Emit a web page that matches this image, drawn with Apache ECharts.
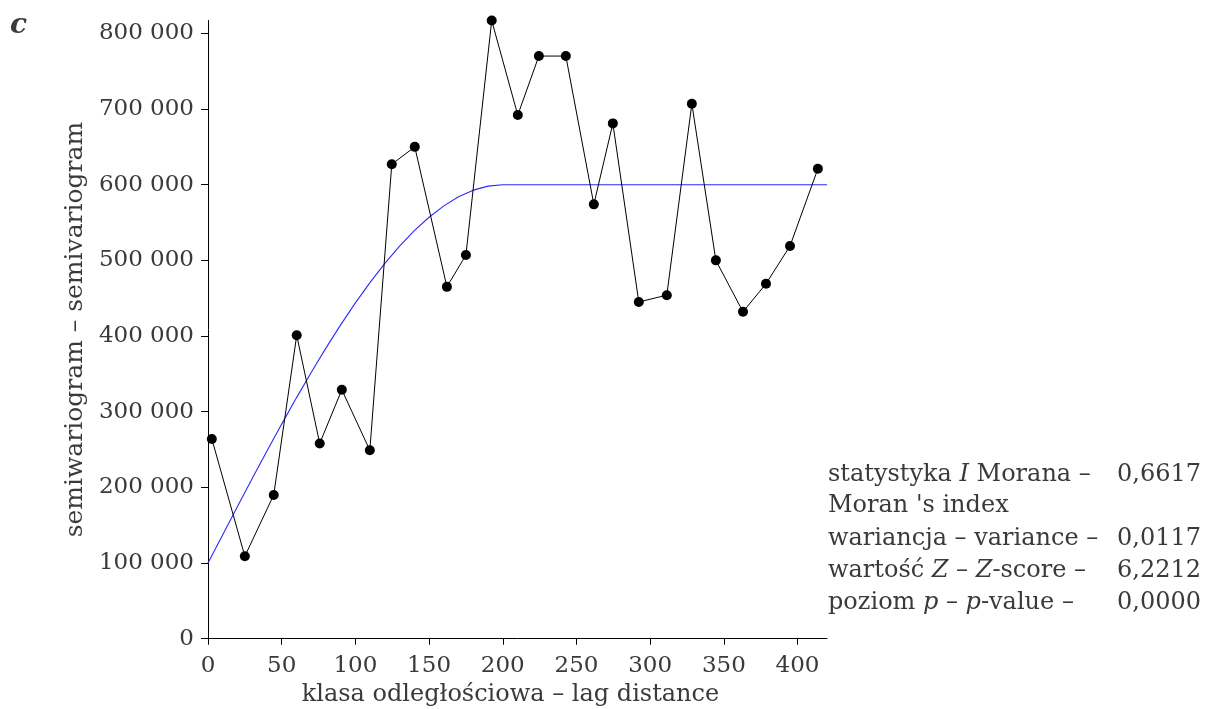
<!DOCTYPE html>
<html><head><meta charset="utf-8">
<script src="https://cdn.jsdelivr.net/npm/echarts@6/dist/echarts.min.js"></script>
<style>html,body{margin:0;padding:0;background:#fff}#c{width:1206px;height:709px}</style>
</head><body><div id="c"></div>
<script>
// Empirical semivariogram (lag distance, semivariance)
const lagDistance = [2.6, 25, 44.6, 60.2, 75.8, 90.8, 109.8, 124.7, 140.3, 162.1, 175, 192.5, 210.2, 224.5, 242.8, 261.8, 274.7, 292.3, 311.3, 328.3, 344.6, 363, 378.6, 394.9, 413.8];
const semivariance = [264000, 109000, 190000, 401000, 258000, 329000, 249000, 627000, 650000, 465000, 507000, 817000, 692000, 770000, 770000, 574000, 681000, 445000, 454000, 707000, 500000, 432000, 469000, 519000, 621000];
// Fitted model curve
const modelLag = [0, 10, 20, 30, 40, 50, 60, 70, 80, 90, 100, 110, 120, 130, 140, 150, 160, 170, 180, 190, 200, 420];
const modelValue = [100000, 137500, 174800, 211700, 248000, 283600, 318300, 351800, 384000, 414700, 443800, 470900, 496000, 518800, 539300, 557000, 572000, 584000, 592800, 598100, 600000, 600000];
const xTicks = [0, 50, 100, 150, 200, 250, 300, 350, 400];
const yTicks = [0, 100000, 200000, 300000, 400000, 500000, 600000, 700000, 800000];
const statLabels = ['statystyka {i|I} Morana –', 'Moran \'s index', 'wariancja – variance –', 'wartość {i|Z} – {i|Z}-score –', 'poziom {i|p} – {i|p}-value –'];
const statValues = ['0,6617', '', '0,0117', '6,2212', '0,0000'];

const FONT = '"DejaVu Serif", "Liberation Serif", serif';
const TXT = '#3a3a3a';
const fmt = v => String(v).replace(/\B(?=(\d{3})+(?!\d))/g, ' ');

const chart = echarts.init(document.getElementById('c'), null, {renderer: 'canvas'});
const statY = [475, 506, 539, 571, 603];
const graphics = [{
  type: 'text', left: 10, top: 12,
  style: {text: 'c', font: 'italic bold 28px ' + FONT, fill: TXT}
}];
statLabels.forEach((t, i) => {
  graphics.push({
    type: 'text', x: 828, y: statY[i],
    style: {text: t, font: '24px ' + FONT, fill: TXT, verticalAlign: 'middle', textAlign: 'left',
      rich: {i: {fontStyle: 'italic', fontFamily: FONT, fontSize: 24, fill: TXT, color: TXT}}}
  });
  if (statValues[i]) graphics.push({
    type: 'text', x: 1201, y: statY[i],
    style: {text: statValues[i], font: '24px ' + FONT, fill: TXT, verticalAlign: 'middle', textAlign: 'right'}
  });
});

chart.setOption({
  animation: false,
  backgroundColor: '#fff',
  textStyle: {fontFamily: FONT},
  grid: {left: 208, right: 379, top: 20.5, bottom: 70.3, containLabel: false, outerBoundsMode: 'none'},
  xAxis: {
    type: 'value', min: 0, max: 420,
    name: 'klasa odległościowa – lag distance', nameLocation: 'middle', nameGap: 44,
    nameTextStyle: {fontFamily: FONT, fontSize: 24, color: TXT, padding: [0, 14, 0, 0]},
    axisLine: {show: true, onZero: false, lineStyle: {color: '#000', width: 1}},
    axisTick: {show: true, length: 6, lineStyle: {color: '#000'}, customValues: xTicks},
    axisLabel: {fontFamily: FONT, fontSize: 23, color: TXT, margin: 16, customValues: xTicks, formatter: v => String(v)},
    splitLine: {show: false}
  },
  yAxis: {
    type: 'value', min: 0, max: 817000,
    name: 'semiwariogram – semivariogram', nameLocation: 'middle', nameGap: 120, nameRotate: 90,
    nameTextStyle: {fontFamily: FONT, fontSize: 25, color: TXT},
    axisLine: {show: true, onZero: false, lineStyle: {color: '#000', width: 1}},
    axisTick: {show: true, length: 7, lineStyle: {color: '#000'}, customValues: yTicks},
    axisLabel: {fontFamily: FONT, fontSize: 23, color: TXT, margin: 14, customValues: yTicks, formatter: v => fmt(v)},
    splitLine: {show: false}
  },
  series: [{
    type: 'line', data: modelLag.map((x, i) => [x, modelValue[i]]),
    showSymbol: false, symbol: 'none', smooth: false,
    lineStyle: {color: '#2a2aff', width: 1.1}, z: 2
  }, {
    type: 'line', data: lagDistance.map((x, i) => [x, semivariance[i]]),
    symbol: 'circle', symbolSize: 10, showAllSymbol: true,
    itemStyle: {color: '#000'}, lineStyle: {color: '#000', width: 1}, z: 3
  }],
  graphic: graphics
});
</script></body></html>
